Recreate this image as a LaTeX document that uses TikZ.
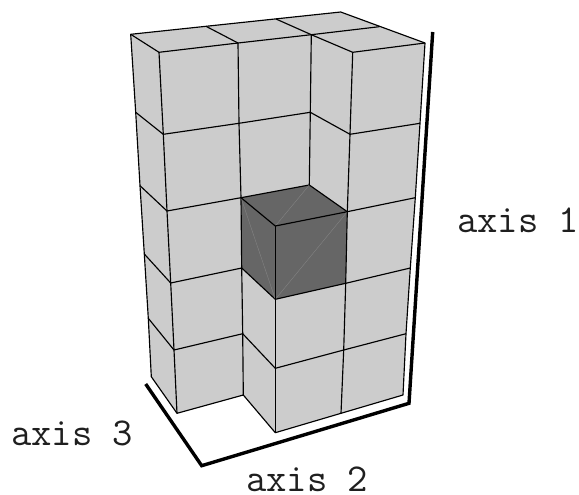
\documentclass[tikz,border=0pt]{standalone}
\tikzset{
  edge/.style={black,line width=1.15pt,line join=round},
  lightface/.style={fill=black!20,draw=black,line width=1.15pt,line join=round},
  darkface/.style={fill=black!60,draw=black,line width=1.15pt,line join=round},
  diag/.style={draw=black!48,line width=0.35pt},
  axisline/.style={black,line width=3.4pt,line join=miter},
  axislabel/.style={font=\ttfamily\fontsize{39.5}{39.5}\selectfont,inner sep=0pt,text=black!88,anchor=base west}
}
\begin{document}
\begin{tikzpicture}[x=1pt,y=-1pt]
\useasboundingbox (0,0) rectangle (579,495);
% silhouette
\path[lightface] (130.7,34.3) -- (340.7,12) -- (425,43) -- (420,123.3) -- (415.3,197.7) -- (410.3,268) -- (406,333.7) -- (403,395) -- (341,413.3) -- (275.3,432.7) -- (243.3,395) -- (177,413.3) -- (151.3,376.7) -- (148.3,318.3) -- (144.3,254) -- (140,185.7) -- (135.7,112.3) -- cycle;
% dark cube
\path[darkface] (241,197.7) -- (309.3,185) -- (347.3,211.7) -- (345.7,283.3) -- (275.3,299.3) -- (241.7,268) -- cycle;
\draw[diag] (241,197.7) -- (275.3,299.3);
\draw[diag] (275.3,226) -- (309.3,185);
\draw[diag] (275.3,299.3) -- (347.3,211.7);
\draw[edge] (241,197.7) -- (275.3,226) -- (347.3,211.7);
\draw[edge] (275.3,226) -- (275.3,299.3);
% top face
\draw[edge] (130.7,34.3) -- (159,52.3) -- (238,43) -- (311.3,34.7) -- (379.3,26.7);
\draw[edge] (206,26.3) -- (238,43);
\draw[edge] (276,19) -- (311.3,34.7) -- (352.7,52.3) -- (425,43);
% verticals
\draw[edge] (159,52.3) -- (163.3,134.3) -- (167,211) -- (170.7,283) -- (174,350) -- (177,413.3);
\draw[edge] (238,43) -- (239,123.3) -- (241,197.7);
\draw[edge] (241.7,268) -- (242.7,333.7) -- (243.3,395);
\draw[edge] (311.3,34.7) -- (310.3,112.3) -- (309.3,185);
\draw[edge] (352.7,52.3) -- (350,134.3) -- (347.3,211.7);
\draw[edge] (345.7,283.3) -- (343.7,350) -- (341,413.3);
\draw[edge] (275.3,299.3) -- (275.3,368.3) -- (275.3,432.7);
% rows
\draw[edge] (135.7,112.3) -- (163.3,134.3) -- (239,123.3) -- (310.3,112.3) -- (350,134.3) -- (420,123.3);
\draw[edge] (140,185.7) -- (167,211) -- (241,197.7);
\draw[edge] (347.3,211.7) -- (415.3,197.7);
\draw[edge] (144.3,254) -- (170.7,283) -- (241.7,268);
\draw[edge] (345.7,283.3) -- (410.3,268);
\draw[edge] (148.3,318.3) -- (174,350) -- (242.7,333.7) -- (275.3,368.3) -- (343.7,350) -- (406,333.7);
% axes
\draw[axisline] (432.7,32) -- (409,403.3) -- (201.7,465.7) -- (145.7,384);
\node[axislabel] (axisone) at (457,232) {axis 1};
\node[axislabel] (axistwo) at (246,491) {axis 2};
\node[axislabel] (axisthree) at (11,445) {axis 3};
\end{tikzpicture}
\end{document}
